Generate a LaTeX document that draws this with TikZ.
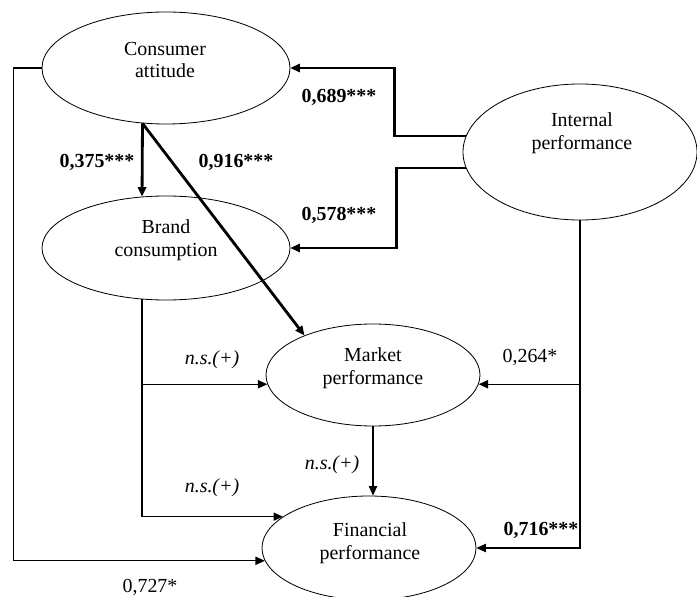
\documentclass[tikz,border=0pt]{standalone}
\usepackage{fontspec}
\setmainfont{Liberation Serif}
\usetikzlibrary{shapes.geometric,arrows.meta}

\begin{document}
\begin{tikzpicture}[x=0.03cm,y=-0.03cm,
  font=\fontsize{17}{19.6}\selectfont,
  construct/.style={draw,ellipse,inner sep=0pt,line width=0.7pt},
  txt/.style={align=center,inner sep=0pt},
  coef/.style={inner sep=0pt},
  sig/.style={coef,font=\fontsize{17}{19.6}\selectfont\bfseries},
  ns/.style={coef,font=\fontsize{17}{19.6}\selectfont\itshape},
  link/.style={-{Triangle[length=8pt,width=7pt]},line width=1pt},
  strong/.style={link,line width=2.4pt}]
  \useasboundingbox (0,0) rectangle (697,597);
  % constructs
  \node[construct,minimum width=7.44cm,minimum height=3.36cm] (att) at (166,68) {};
  \node[construct,minimum width=7.44cm,minimum height=3.12cm] (brd) at (166,248) {};
  \node[construct,minimum width=7.02cm,minimum height=4.08cm] (int) at (580,152) {};
  \node[construct,minimum width=6.42cm,minimum height=3.06cm] (mkt) at (373,375) {};
  \node[construct,minimum width=6.42cm,minimum height=3.12cm] (fin) at (369,548) {};
  \node[txt] (attT) at (165,60) {Consumer\\attitude};
  \node[txt] (brdT) at (166,240) {Brand\\consumption};
  \node[txt] (intT) at (582,133) {Internal\\performance};
  \node[txt] (mktT) at (373,368) {Market\\performance};
  \node[txt] (finT) at (370,543) {Financial\\performance};
  % split points
  \coordinate (brdsplit) at (brd.245 |- mkt.185);
  \coordinate (intsplit) at (int.south |- mkt.355);
  % paths
  \draw[strong] (int.172) -- ++(-71,0) |- (att.east);
  \draw[strong] (int.188) -- ++(-69,0) |- (brd.east);
  \draw[strong] (att.247) -- (brd.115);
  \draw[strong] (att.247) -- (mkt.150);
  \draw[link] (brd.245) |- (fin.160);
  \draw[link] (brdsplit) -- (mkt.185);
  \draw[link] (att.west) -- ++(-28,0) |- (fin.187);
  \draw[link] (int.south) |- (fin.east);
  \draw[link] (intsplit) -- (mkt.355);
  \draw[link] (mkt.south) -- (mkt.south |- fin.north);
  % coefficients
  \node[sig] (c689) at (339,97) {0,689***};
  \node[sig] (c578) at (339,215) {0,578***};
  \node[sig] (c375) at (97,162) {0,375***};
  \node[sig] (c916) at (236,162) {0,916***};
  \node[sig] (c716) at (541,530) {0,716***};
  \node[coef] (c264) at (530,357) {0,264*};
  \node[coef] (c727) at (150,587) {0,727*};
  \node[ns] (ns1) at (212,360) {n.s.(+)};
  \node[ns] (ns2) at (212,488) {n.s.(+)};
  \node[ns] (ns3) at (332,465) {n.s.(+)};
\end{tikzpicture}
\end{document}
